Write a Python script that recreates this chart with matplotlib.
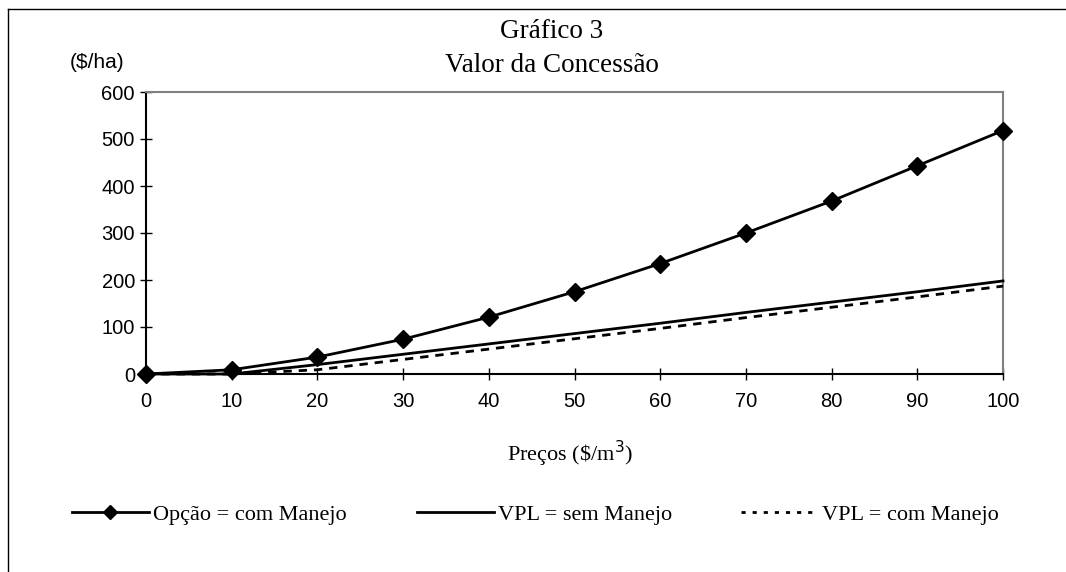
import matplotlib.pyplot as plt
from matplotlib.lines import Line2D

# data
precos = [0, 10, 20, 30, 40, 50, 60, 70, 80, 90, 100]
opcao_com_manejo = [0, 9, 36, 74, 121, 175, 235, 300, 368, 443, 518]
vpl_sem_manejo = [0, 0, 20, 42, 64, 86, 108, 131, 153, 175, 198]
vpl_com_manejo = [0, 0, 9, 31, 53, 75, 97, 120, 142, 164, 187]
labels = ['Opção = com Manejo', 'VPL = sem Manejo', 'VPL = com Manejo']

serif = 'Liberation Serif'
sans = 'Liberation Sans'
W, H = 1066, 572
dash = (0, (3, 2.5))

fig = plt.figure(figsize=(W / 100, H / 100), dpi=100)
ax = fig.add_axes([146 / W, 1 - 374 / H, 857 / W, 282 / H])

ax.plot(precos, opcao_com_manejo, color='black', lw=2, marker='D', ms=9,
        clip_on=False, zorder=4)
ax.plot(precos, vpl_sem_manejo, color='black', lw=2, clip_on=False, zorder=3)
ax.plot(precos, vpl_com_manejo, color='black', lw=2, ls=dash,
        clip_on=False, zorder=3)

ax.set_xlim(0, 100)
ax.set_ylim(0, 600)
ax.set_xticks(range(0, 101, 10))
ax.set_yticks(range(0, 601, 100))
ax.tick_params(direction='inout', length=8, width=1, labelsize=14.5)
ax.tick_params(axis='y', pad=4)
ax.tick_params(axis='x', pad=9)
for lbl in ax.get_xticklabels() + ax.get_yticklabels():
    lbl.set_fontfamily(sans)

ax.spines['left'].set_color('black')
ax.spines['bottom'].set_color('black')
ax.spines['top'].set_color('#808080')
ax.spines['right'].set_color('#808080')
for s in ax.spines.values():
    s.set_linewidth(1.5)

fig.text(552 / W, 1 - 38 / H, 'Gráfico 3', ha='center', va='baseline',
         family=serif, fontsize=19.5)
fig.text(552 / W, 1 - 72 / H, 'Valor da Concessão', ha='center',
         va='baseline', family=serif, fontsize=19.5)
fig.text(97 / W, 1 - 63 / H, '($/ha)', ha='center', va='center',
         family=sans, fontsize=15)
fig.text(570 / W, 1 - 461 / H, 'Preços (\\$/m$^3$)', ha='center',
         va='baseline', family=serif, fontsize=16)

# figure frame (top and left edges visible)
fig.add_artist(Line2D([8 / W, 1], [1 - 9 / H, 1 - 9 / H], color='black', lw=1))
fig.add_artist(Line2D([8 / W, 8 / W], [0, 1 - 9 / H], color='black', lw=1))

# legend entries, one per column
handles = [
    Line2D([], [], color='black', lw=2, marker='D', ms=7),
    Line2D([], [], color='black', lw=2),
    Line2D([], [], color='black', lw=2, ls=(0, (1.5, 2.5))),
]
starts = [72, 417, 741]
for h, lab, x0 in zip(handles, labels, starts):
    fig.legend([h], [lab], loc='center left', bbox_to_anchor=(x0 / W, 1 - 515 / H),
               frameon=False, prop={'family': serif, 'size': 16},
               handlelength=3.45, handletextpad=0.2, borderpad=0,
               borderaxespad=0)

fig.savefig('out.png', dpi=100)
